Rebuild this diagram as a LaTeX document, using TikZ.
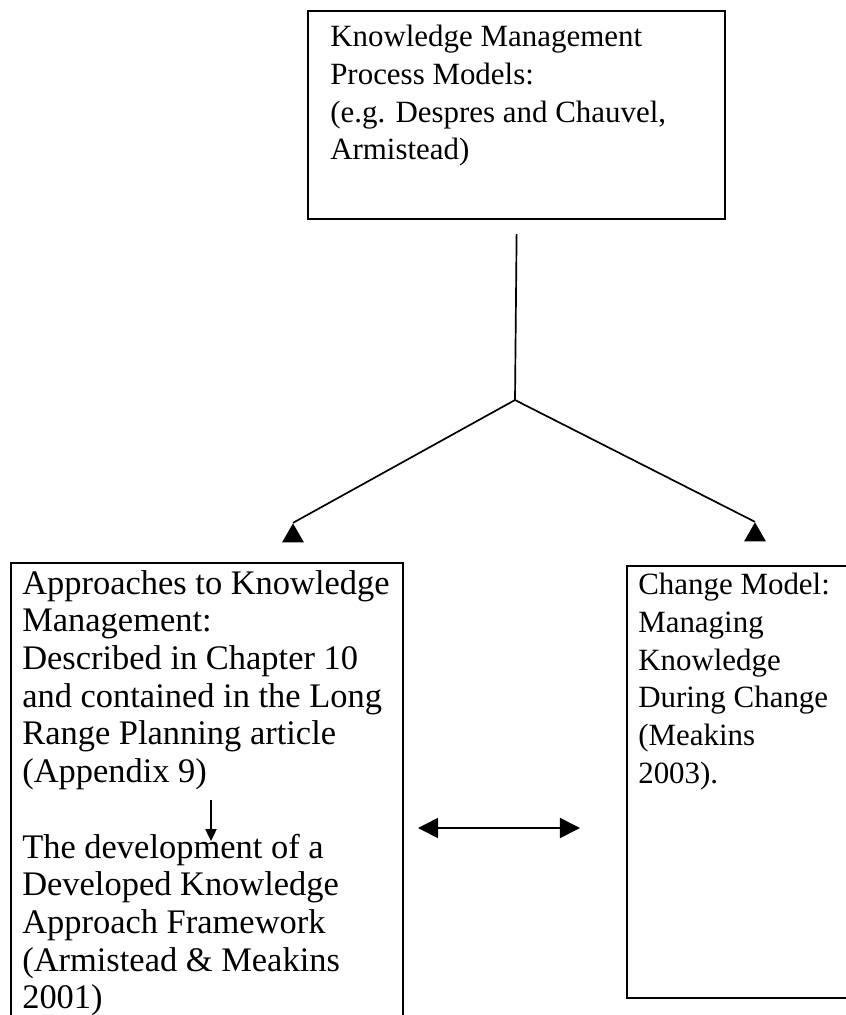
\documentclass[tikz,border=0pt]{standalone}
\usepackage{fontspec}
\setmainfont{Liberation Serif}
\usetikzlibrary{arrows.meta}
\usetikzlibrary{shapes.geometric}

\tikzset{
  frame/.style={draw, line width=1.5pt, inner sep=0pt, anchor=north west},
  boxtext/.style={align=left, inner sep=0pt, anchor=north west,
    font=\fontsize{24.5}{26.8}\selectfont},
  smalltext/.style={boxtext, font=\fontsize{22}{26.8}\selectfont},
  link/.style={line width=1.2pt},
  headtri/.style={regular polygon, regular polygon sides=3, fill=black,
    inner sep=0pt, minimum size=0.63cm},
}

\begin{document}
\begin{tikzpicture}[x=0.025cm, y=-0.025cm]
    \useasboundingbox (0,0) rectangle (846,1015);
    \clip (0,0) rectangle (846,1015);

    % boxes
    \node[frame, minimum width=10.425cm, minimum height=5.2cm] (kmbox) at (307,10) {};
    \node[frame, minimum width=9.8cm, minimum height=12.5cm] (approach) at (10,562) {};
    \node[frame, minimum width=6.5cm, minimum height=10.8cm] (change) at (626,565) {};

    \node[smalltext] (kmtext) at ([shift={(23,15)}]kmbox.north west)
      {Knowledge Management\\Process Models:\\(e.g. Despres and Chauvel,\\Armistead)};
    \node[boxtext] (approachtext) at ([shift={(12,8)}]approach.north west)
      {Approaches to Knowledge\\Management:\\Described in Chapter 10\\and contained in the Long\\Range Planning article\\(Appendix 9)\\\mbox{}\\The development of a\\Developed Knowledge\\Approach Framework\\(Armistead \& Meakins\\2001)};
    \node[smalltext] (changetext) at ([shift={(12,8)}]change.north west)
      {Change Model:\\Managing\\Knowledge\\During Change\\(Meakins\\2003).};

    % arrow heads
    \node[headtri] (lefthead) at (293,536) {};
    \node[headtri] (righthead) at (755,535) {};

    \coordinate (split) at (515,400);
    \coordinate (devtop) at (211,800);
    \coordinate (devend) at (211,841);
    \coordinate (dblleft) at (418,828);
    \coordinate (dblright) at (580,828);

    \draw[link] ([yshift=-10]kmbox.south) -- (split);
    \draw[link] (split) -- (lefthead.corner 1);
    \draw[link] (split) -- (righthead.corner 1);
    \draw[link, -{Triangle[length=0.3cm, width=0.28cm]}] (devtop) -- (devend);
    \draw[link, {Triangle[length=0.5cm, width=0.5cm]}-{Triangle[length=0.5cm, width=0.5cm]}] (dblleft) -- (dblright);
\end{tikzpicture}
\end{document}
